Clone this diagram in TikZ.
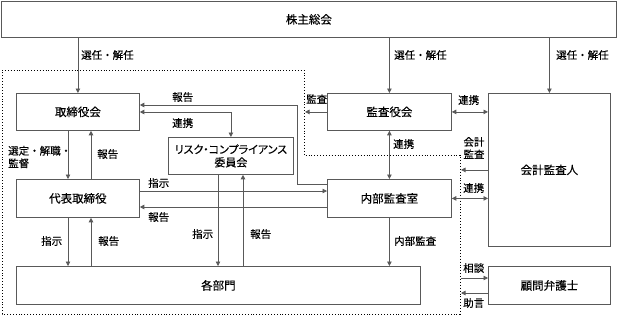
\documentclass[tikz,border=0pt]{standalone}
\usepackage{fontspec}
\setmainfont{Noto Sans CJK JP}[FakeBold=0.35]
\newfontfamily\pfont{Noto Sans CJK JP}[RawFeature=+palt, FakeBold=0.35]
\usetikzlibrary{arrows.meta}
\begin{document}
\begin{tikzpicture}[x=1pt,y=-1pt,
  box/.style={draw=black!65, line width=0.8pt, inner sep=0pt, anchor=north west, font=\fontsize{11.5}{14}\selectfont},
  lbl/.style={inner sep=0pt, anchor=west, font=\fontsize{10.5}{12.5}\selectfont},
  conn/.style={draw=black!65, line width=0.8pt},
  >={Triangle[length=4.5pt,width=4.5pt]}]
\useasboundingbox (0,0) rectangle (617,325);

% boxes
\node[box, minimum width=615pt, minimum height=36pt] (kabu) at (1,1) {株主総会};
\node[box, minimum width=123pt, minimum height=37pt] (tori) at (16,93) {取締役会};
\node[box, minimum width=124pt, minimum height=37pt] (kansa) at (327,93) {監査役会};
\node[box, minimum width=122pt, minimum height=153pt] (kaikei) at (488,93) {会計監査人};
\node[box, minimum width=125pt, minimum height=37pt, align=center, font=\pfont\fontsize{11}{13}\selectfont] (risk) at (168,137) {リスク・コンプライアンス\\委員会};
\node[box, minimum width=123pt, minimum height=38pt] (daihyo) at (16,179) {代表取締役};
\node[box, minimum width=124pt, minimum height=38pt] (naibu) at (327,179) {内部監査室};
\node[box, minimum width=404pt, minimum height=38pt] (kaku) at (16,266) {各部門};
\node[box, minimum width=122pt, minimum height=38pt] (bengo) at (488,266) {顧問弁護士};

% dotted boundary
\draw[line width=0.9pt, dotted] (2,70) -- (304,70) -- (304,155) -- (460,155) -- (460,314) -- (2,314) -- cycle;

% helper coordinates
\coordinate (bdA) at (305,0);
\coordinate (bdB) at (461,0);
\coordinate (x68) at (68,0);
\coordinate (x91) at (91,0);
\coordinate (x218) at (218,0);
\coordinate (x243) at (243,0);
\coordinate (x297) at (297,0);
\coordinate (y105) at (0,105);
\coordinate (y112) at (0,112);
\coordinate (y184) at (0,184);
\coordinate (y191) at (0,191);
\coordinate (y207) at (0,207);
\coordinate (y278) at (0,278);
\coordinate (y293) at (0,293);

% election arrows
\draw[conn,->] (kabu.south -| tori.north) -- (tori.north);
\draw[conn,->] (kabu.south -| kansa.north) -- (kansa.north);
\draw[conn,->] (kabu.south -| kaikei.north) -- (kaikei.north);
\node[lbl] at (81,55) {選任・解任};
\node[lbl] at (394,55) {選任・解任};
\node[lbl] at (556,55) {選任・解任};

% board <-> representative director
\draw[conn,->] (tori.south -| x68) -- (daihyo.north -| x68);
\draw[conn,->] (daihyo.north -| x91) -- (tori.south -| x91);
\node[lbl, align=left] at (8,157) {選定・解職・\\監督};
\node[lbl] at (97,154) {報告};

% representative director <-> departments
\draw[conn,->] (daihyo.south -| x68) -- (kaku.north -| x68);
\draw[conn,->] (kaku.north -| x91) -- (daihyo.south -| x91);
\node[lbl] at (41,241) {指示};
\node[lbl] at (98,241) {報告};

% board <-> risk committee
\draw[conn,<->] (tori.east |- y112) -| (risk.north);
\node[lbl] at (172,123) {連携};

% internal audit report to board
\draw[conn,->] (naibu.west |- y184) -| (x297 |- y105) -- (tori.east |- y105);
\node[lbl] at (172,97) {報告};

% risk committee <-> departments
\draw[conn,->] (risk.south -| x218) -- (kaku.north -| x218);
\draw[conn,->] (kaku.north -| x243) -- (risk.south -| x243);
\node[lbl] at (192,234) {指示};
\node[lbl] at (250,234) {報告};

% representative director <-> internal audit
\draw[conn,->] (daihyo.east |- y191) -- (naibu.west |- y191);
\draw[conn,->] (naibu.west |- y207) -- (daihyo.east |- y207);
\node[lbl] at (148,183) {指示};
\node[lbl] at (148,217) {報告};

% audit board
\draw[conn,->] (kansa.west) -- (bdA |- kansa.west);
\node[lbl] at (306,99) {監査};
\draw[conn,<->] (kansa.east) -- (kansa.east -| kaikei.west);
\node[lbl] at (458,100) {連携};
\draw[conn,<->] (kansa.south) -- (naibu.north);
\node[lbl] at (393,144) {連携};

% accounting auditor
\draw[conn,->] (kaikei.west) -- (bdB |- kaikei.west);
\node[lbl, align=center, anchor=center] at (474,148) {会計\\監査};
\draw[conn,<->] (naibu.east) -- (naibu.east -| kaikei.west);
\node[lbl] at (463,188) {連携};

% internal audit -> departments
\draw[conn,->] (naibu.south) -- (kaku.north -| naibu.south);
\node[lbl] at (394,241) {内部監査};

% legal advisor
\draw[conn,->] (bdB |- y278) -- (bengo.west |- y278);
\draw[conn,->] (bengo.west |- y293) -- (bdB |- y293);
\node[lbl] at (463,268) {相談};
\node[lbl] at (463,303) {助言};
\end{tikzpicture}
\end{document}
